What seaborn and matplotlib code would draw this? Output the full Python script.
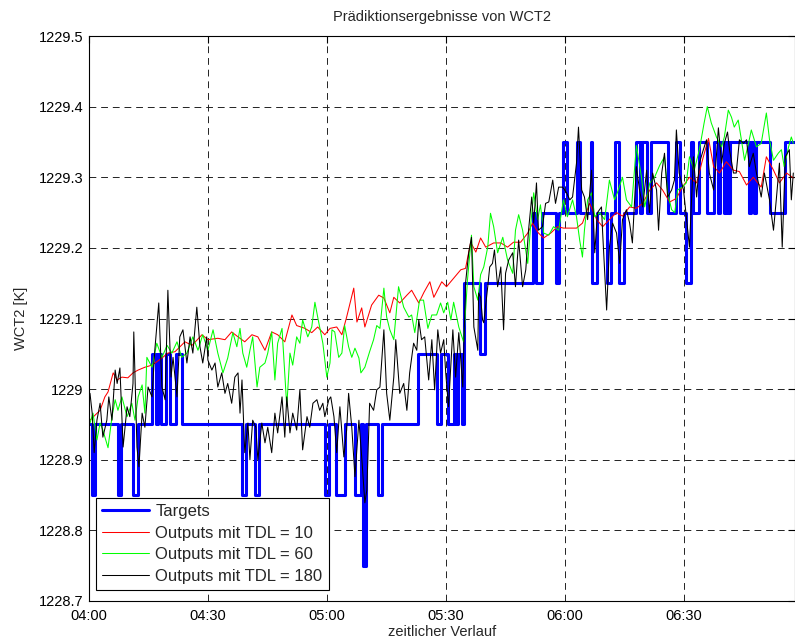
import matplotlib
matplotlib.use("Agg")
import matplotlib.pyplot as plt
import pandas as pd
import seaborn as sns

# ---------------- data ----------------
title = "Prädiktionsergebnisse von WCT2"
x_label = "zeitlicher Verlauf"
y_label = "WCT2 [K]"
x_ticks = [0, 30, 60, 90, 120, 150]          # minutes after 04:00
x_tick_labels = ["04:00", "04:30", "05:00", "05:30", "06:00", "06:30"]
y_ticks = [1228.7, 1228.8, 1228.9, 1229.0, 1229.1, 1229.2, 1229.3, 1229.4, 1229.5]
y_tick_labels = ["1228.7", "1228.8", "1228.9", "1229", "1229.1", "1229.2", "1229.3", "1229.4", "1229.5"]
series_labels = ["Targets", "Outputs mit TDL = 10", "Outputs mit TDL = 60", "Outputs mit TDL = 180"]

# (minute after 04:00, value)
targets = [(0.0,1228.95),(0.8,1228.85),(1.5,1228.95),(7.3,1228.85),(8.1,1228.95),(11.1,1228.85),(12.4,1228.95),
    (15.9,1229.05),(16.9,1228.95),(17.4,1229.05),(18.2,1228.95),(19.4,1229.05),(20.4,1228.95),(21.9,1229.05),
    (23.4,1228.95),(38.6,1228.85),(39.6,1228.95),(41.8,1228.85),(42.9,1228.95),(59.5,1228.85),(60.5,1228.95),
    (62.3,1228.85),(64.5,1228.95),(67.1,1228.85),(68.6,1228.95),(69.1,1228.75),(69.8,1228.95),(72.9,1228.85),
    (73.9,1228.95),(82.9,1229.05),(87.7,1228.95),(88.7,1229.05),(90.5,1228.95),(92.0,1229.05),(92.5,1228.95),
    (93.0,1229.05),(94.0,1228.95),(94.5,1229.15),(98.6,1229.05),(99.8,1229.15),(111.9,1229.25),(112.9,1229.15),
    (114.4,1229.25),(117.7,1229.15),(118.7,1229.25),(119.5,1229.35),(120.5,1229.25),(123.0,1229.35),(124.0,1229.25),
    (126.6,1229.35),(127.0,1229.15),(128.1,1229.25),(130.8,1229.15),(131.8,1229.25),(132.6,1229.35),(133.6,1229.15),
    (135.1,1229.25),(137.9,1229.35),(138.9,1229.25),(139.4,1229.35),(140.7,1229.25),(141.9,1229.35),(146.0,1229.25),
    (148.2,1229.35),(149.2,1229.25),(150.5,1229.15),(151.8,1229.35),(152.5,1229.25),(153.8,1229.35),(156.0,1229.25),
    (157.8,1229.35),(158.8,1229.25),(159.3,1229.35),(160.1,1229.25),(160.6,1229.35),(161.3,1229.25),(161.8,1229.35),
    (166.6,1229.25),(167.1,1229.35),(167.9,1229.25),(168.4,1229.35),(171.7,1229.25),(175.7,1229.35),(178.0,1229.35)]

out_tdl10 = [(0.25,1228.956),(1.5,1228.963),(2.8,1228.970),(4.0,1228.989),(4.8,1228.996),(6.1,1229.023),(7.1,1229.013),
    (8.3,1229.017),(9.8,1229.016),(11.1,1229.023),(12.4,1229.027),(14.1,1229.031),(15.9,1229.034),(18.4,1229.044),
    (19.9,1229.051),(21.7,1229.053),(24.2,1229.067),(26.0,1229.062),(28.5,1229.077),(30.0,1229.070),(32.5,1229.072),
    (34.3,1229.070),(36.0,1229.081),(37.6,1229.074),(39.3,1229.067),(41.1,1229.077),(42.6,1229.074),(44.4,1229.055),
    (46.1,1229.081),(47.6,1229.077),(49.4,1229.067),(51.2,1229.105),(52.4,1229.090),(54.5,1229.086),(56.2,1229.080),
    (57.7,1229.088),(59.5,1229.077),(60.8,1229.086),(62.5,1229.088),(63.8,1229.077),(65.0,1229.102),(66.8,1229.143),
    (67.6,1229.095),(68.8,1229.115),(69.6,1229.088),(71.3,1229.119),(73.1,1229.133),(74.4,1229.129),(75.9,1229.108),
    (76.9,1229.130),(78.4,1229.122),(80.2,1229.133),(81.4,1229.140),(83.2,1229.122),(84.5,1229.137),(86.0,1229.152),
    (87.0,1229.130),(89.0,1229.152),(90.2,1229.145),(92.0,1229.157),(93.8,1229.169),(95.0,1229.171),(96.3,1229.208),
    (97.6,1229.194),(98.8,1229.214),(100.1,1229.201),(102.1,1229.207),(103.9,1229.207),(105.6,1229.201),(107.1,1229.208),
    (108.9,1229.208),(110.7,1229.221),(111.9,1229.235),(113.4,1229.221),(114.7,1229.214),(116.5,1229.221),(118.2,1229.230),
    (119.7,1229.228),(120.5,1229.228),(123.0,1229.228),(124.5,1229.235),(126.3,1229.263),(128.1,1229.240),(129.6,1229.230),
    (131.3,1229.240),(133.1,1229.250),(134.6,1229.245),(136.4,1229.258),(138.1,1229.256),(139.7,1229.263),(141.5,1229.282),
    (143.2,1229.292),(144.7,1229.282),(146.5,1229.265),(148.2,1229.270),(149.7,1229.286),(151.5,1229.300),(153.3,1229.292),
    (155.0,1229.329),(156.3,1229.355),(157.6,1229.315),(159.1,1229.306),(160.8,1229.322),(162.6,1229.310),(164.1,1229.308),
    (165.9,1229.289),(167.6,1229.300),(169.6,1229.286),(170.9,1229.329),(172.7,1229.310),(174.2,1229.292),(176.0,1229.306),
    (177.7,1229.299)]

out_tdl60 = [(0.25,1228.952),(1.0,1228.966),(2.0,1228.928),(2.8,1228.952),(3.5,1228.942),(4.8,1228.917),(5.8,1228.961),
    (6.6,1228.985),(7.3,1228.970),(8.3,1228.989),(9.6,1228.961),(10.8,1228.980),(11.6,1228.956),(12.4,1228.989),
    (13.4,1229.006),(14.1,1228.966),(14.6,1229.045),(15.9,1229.031),(17.1,1229.065),(18.4,1229.045),(19.7,1229.062),
    (20.9,1229.051),(22.2,1229.067),(23.4,1229.045),(24.7,1229.051),(26.2,1229.074),(27.5,1229.055),(28.7,1229.077),
    (30.0,1229.055),(31.3,1229.084),(32.5,1229.051),(33.8,1229.023),(35.0,1229.044),(36.3,1229.080),(37.3,1229.060),
    (38.1,1229.086),(38.8,1229.051),(39.8,1229.031),(40.6,1229.055),(41.3,1229.074),(42.4,1229.003),(43.1,1229.031),
    (44.4,1229.037),(45.1,1229.051),(46.1,1229.081),(46.9,1229.013),(47.6,1229.065),(48.7,1229.086),(49.9,1228.975),
    (50.7,1229.051),(51.4,1229.034),(52.4,1229.074),(53.2,1229.065),(53.9,1229.098),(55.2,1229.074),(56.2,1229.088),
    (57.0,1229.123),(57.7,1229.102),(59.0,1229.065),(60.0,1229.017),(60.8,1229.037),(61.3,1229.084),(62.0,1229.081),
    (63.0,1229.045),(63.8,1229.051),(64.5,1229.090),(65.5,1229.060),(66.3,1229.045),(67.1,1229.058),(68.1,1229.044),
    (68.6,1229.023),(69.6,1229.031),(70.8,1229.053),(71.8,1229.070),(72.6,1229.090),(73.4,1229.086),(74.4,1229.143),
    (75.1,1229.102),(75.9,1229.084),(76.9,1229.070),(77.4,1229.102),(78.1,1229.145),(79.4,1229.116),(80.7,1229.102),
    (81.4,1229.105),(82.2,1229.080),(83.4,1229.126),(84.4,1229.126),(85.5,1229.086),(86.5,1229.105),(87.7,1229.105),
    (88.7,1229.122),(89.5,1229.108),(90.5,1229.123),(91.3,1229.098),(92.0,1229.123),(93.3,1229.088),(94.5,1229.067),
    (95.5,1229.155),(96.5,1229.218),(97.1,1229.145),(98.1,1229.126),(98.8,1229.162),(99.6,1229.173),(100.6,1229.201),
    (101.3,1229.249),(102.1,1229.230),(103.1,1229.193),(104.4,1229.215),(105.6,1229.183),(106.9,1229.164),(107.6,1229.225),
    (108.4,1229.247),(109.4,1229.225),(110.7,1229.178),(111.4,1229.230),(112.2,1229.278),(113.2,1229.240),(113.9,1229.261),
    (114.7,1229.221),(116.0,1229.218),(117.2,1229.230),(118.5,1229.225),(119.7,1229.268),(120.7,1229.244),(122.0,1229.268),
    (123.0,1229.244),(123.8,1229.211),(124.5,1229.187),(125.0,1229.225),(125.8,1229.268),(126.8,1229.278),(127.6,1229.244),
    (128.8,1229.250),(130.1,1229.240),(131.3,1229.296),(132.6,1229.268),(133.3,1229.278),(134.6,1229.300),(135.6,1229.268),
    (136.9,1229.258),(138.1,1229.345),(139.4,1229.300),(140.2,1229.258),(141.5,1229.292),(142.7,1229.300),(144.0,1229.317),
    (145.2,1229.329),(146.0,1229.278),(147.0,1229.254),(147.8,1229.250),(148.5,1229.282),(149.7,1229.286),(150.7,1229.292),
    (151.5,1229.329),(152.7,1229.310),(154.0,1229.339),(155.2,1229.377),(156.0,1229.400),(157.0,1229.377),(158.3,1229.357),
    (159.6,1229.343),(160.3,1229.357),(161.3,1229.395),(162.1,1229.385),(162.8,1229.371),(163.8,1229.381),(164.6,1229.353),
    (165.4,1229.324),(166.4,1229.348),(167.1,1229.367),(168.4,1229.343),(169.6,1229.348),(170.9,1229.391),(171.7,1229.353),
    (172.7,1229.324),(173.9,1229.334),(174.7,1229.339),(175.4,1229.315),(176.5,1229.343),(177.2,1229.357),(177.7,1229.348)]

out_tdl180 = [(0.25,1228.994),(0.8,1228.966),(1.3,1228.910),(2.0,1228.956),(2.8,1228.980),(3.5,1228.932),(4.5,1228.956),
    (5.0,1228.989),(5.8,1228.956),(6.6,1229.027),(7.1,1229.008),(7.8,1229.030),(8.6,1228.918),(9.6,1228.975),
    (10.3,1228.961),(11.1,1229.008),(11.3,1229.081),(12.1,1228.918),(12.6,1228.890),(13.4,1228.966),(14.1,1228.946),
    (14.9,1229.003),(15.9,1228.989),(16.6,1229.055),(17.6,1229.122),(18.4,1229.003),(19.2,1228.985),(19.9,1229.140),
    (20.7,1229.017),(21.2,1229.045),(22.2,1228.989),(22.9,1229.074),(23.7,1229.084),(24.7,1229.037),(25.5,1229.074),
    (26.2,1229.051),(27.2,1229.116),(28.0,1229.060),(28.7,1229.037),(29.7,1229.074),(30.0,1229.041),(31.0,1229.027),
    (31.8,1229.037),(32.5,1229.003),(33.5,1229.023),(34.3,1228.994),(35.0,1229.008),(36.0,1228.980),(36.8,1229.017),
    (37.6,1229.023),(38.1,1228.966),(38.6,1229.013),(39.3,1228.910),(40.1,1228.952),(40.6,1228.900),(41.3,1228.956),
    (42.1,1228.946),(42.6,1228.900),(43.6,1228.952),(44.4,1228.924),(45.1,1228.946),(46.1,1228.910),(46.9,1228.966),
    (47.6,1228.938),(48.7,1228.989),(49.4,1228.932),(49.9,1228.989),(50.7,1228.938),(51.4,1228.966),(52.4,1228.942),
    (53.2,1228.999),(53.9,1228.914),(55.0,1228.961),(55.7,1228.946),(56.5,1228.980),(57.5,1228.985),(58.2,1228.970),
    (59.0,1228.980),(59.5,1228.961),(60.5,1228.985),(61.0,1228.989),(61.8,1228.961),(62.5,1228.910),(63.3,1228.975),
    (64.3,1228.904),(65.0,1228.942),(65.5,1228.994),(66.3,1228.946),(67.1,1228.876),(68.1,1228.956),(68.8,1228.904),
    (69.6,1228.839),(70.1,1228.857),(70.8,1228.980),(71.8,1228.970),(72.6,1228.999),(73.4,1229.003),(74.4,1229.084),
    (75.1,1228.994),(75.9,1228.956),(76.9,1229.017),(77.4,1229.070),(78.4,1228.994),(79.4,1229.008),(80.2,1228.970),
    (80.9,1229.023),(81.9,1229.065),(82.7,1229.055),(83.2,1229.098),(83.9,1229.070),(84.7,1229.074),(85.7,1229.013),
    (86.5,1229.070),(87.2,1228.999),(88.0,1229.084),(88.7,1229.051),(89.5,1229.070),(90.0,1229.023),(90.7,1228.975),
    (91.8,1229.084),(92.5,1229.017),(93.3,1229.080),(94.3,1229.003),(95.0,1229.150),(95.8,1229.193),(96.5,1229.215),
    (97.1,1229.088),(98.1,1229.055),(98.3,1229.136),(98.8,1229.130),(99.3,1229.098),(99.6,1229.094),(100.6,1229.145),
    (101.1,1229.173),(101.8,1229.178),(102.3,1229.197),(103.1,1229.145),(103.9,1229.173),(104.6,1229.084),(105.1,1229.164),
    (105.9,1229.183),(106.9,1229.193),(107.6,1229.145),(108.4,1229.211),(109.4,1229.145),(110.2,1229.169),(110.9,1229.225),
    (111.7,1229.272),(112.2,1229.235),(112.9,1229.292),(113.4,1229.225),(114.4,1229.230),(115.2,1229.263),(116.0,1229.265),
    (117.0,1229.296),(117.7,1229.263),(118.5,1229.286),(119.5,1229.286),(120.5,1229.278),(121.3,1229.268),(122.0,1229.272),
    (123.0,1229.320),(123.5,1229.371),(124.3,1229.282),(125.0,1229.272),(125.8,1229.240),(126.8,1229.310),(127.6,1229.193),
    (128.3,1229.250),(129.3,1229.258),(129.6,1229.221),(130.6,1229.112),(131.3,1229.201),(132.1,1229.235),(133.1,1229.221),
    (133.9,1229.178),(134.6,1229.240),(135.6,1229.254),(136.4,1229.235),(137.1,1229.207),(138.1,1229.315),(138.9,1229.282),
    (139.7,1229.258),(140.7,1229.310),(141.4,1229.250),(142.2,1229.306),(143.2,1229.282),(143.7,1229.225),(144.5,1229.306),
    (145.2,1229.334),(146.0,1229.272),(147.0,1229.282),(147.7,1229.296),(148.2,1229.367),(148.9,1229.306),(150.0,1229.282),
    (150.7,1229.244),(151.5,1229.201),(152.5,1229.329),(153.3,1229.272),(154.0,1229.320),(155.0,1229.339),(155.8,1229.353),
    (156.5,1229.306),(157.6,1229.282),(158.1,1229.315),(158.8,1229.370),(159.6,1229.320),(160.3,1229.348),(161.1,1229.364),
    (161.6,1229.339),(162.6,1229.306),(163.3,1229.306),(164.1,1229.353),(165.1,1229.348),(165.9,1229.353),(166.6,1229.315),
    (167.6,1229.334),(168.4,1229.306),(169.6,1229.272),(170.4,1229.306),(171.7,1229.268),(172.7,1229.225),(173.4,1229.268),
    (174.2,1229.320),(174.9,1229.201),(175.7,1229.329),(176.7,1229.339),(177.2,1229.268),(177.7,1229.306)]

series_data = [targets, out_tdl10, out_tdl60, out_tdl180]
series_colors = ["#0000ff", "#ff0000", "#00ff00", "#000000"]
series_widths = [2.2, 0.75, 0.75, 0.75]

# ---------------- style ----------------
sns.set_theme(style="white")
plt.rcParams["font.family"] = ["Liberation Sans", "DejaVu Sans"]
plt.rcParams["axes.edgecolor"] = "black"
plt.rcParams["axes.linewidth"] = 0.8

fig = plt.figure(figsize=(7.95, 6.39), dpi=100)
ax = fig.add_axes([89 / 795, 38 / 639, 705.5 / 795, 565 / 639])

for pts, lab, col, lw in zip(series_data, series_labels, series_colors, series_widths):
    df = pd.DataFrame(pts, columns=["t", "v"])
    kw = {"drawstyle": "steps-post"} if lab == "Targets" else {}
    sns.lineplot(data=df, x="t", y="v", ax=ax, color=col, linewidth=lw,
                 label=lab, estimator=None, sort=False, **kw)

ax.set_xlim(0, 178)
ax.set_ylim(1228.7, 1229.5)
ax.set_xticks(x_ticks)
ax.set_xticklabels(x_tick_labels)
ax.set_yticks(y_ticks)
ax.set_yticklabels(y_tick_labels)
ax.tick_params(axis="both", which="both", direction="in", length=5, width=0.8,
               top=True, right=True, labelsize=10.5, colors="black")
ax.tick_params(axis="x", pad=6)
ax.tick_params(axis="y", pad=4)
ax.grid(True, color="#222222", linestyle=(0, (7, 5)), linewidth=0.7)
for s in ax.spines.values():
    s.set_color("black")
    s.set_linewidth(0.8)

ax.set_title(title, fontsize=10.5, pad=11)
ax.set_xlabel(x_label, fontsize=10.5)
ax.set_ylabel(y_label, fontsize=10.5)
ax.xaxis.set_label_coords(0.5, -0.055)
ax.xaxis.label.set_va("center")
ax.yaxis.set_label_coords(-0.097, 0.5)
ax.yaxis.label.set_va("center")

leg = ax.legend(loc="lower left", bbox_to_anchor=(0.01, 0.019), borderaxespad=0,
                frameon=True, fancybox=False, framealpha=1, edgecolor="black",
                fontsize=12, handlelength=2.8, handletextpad=0.38, labelspacing=0.4,
                borderpad=0.38)
leg.get_frame().set_linewidth(0.8)

fig.savefig("out.png", dpi=100)
